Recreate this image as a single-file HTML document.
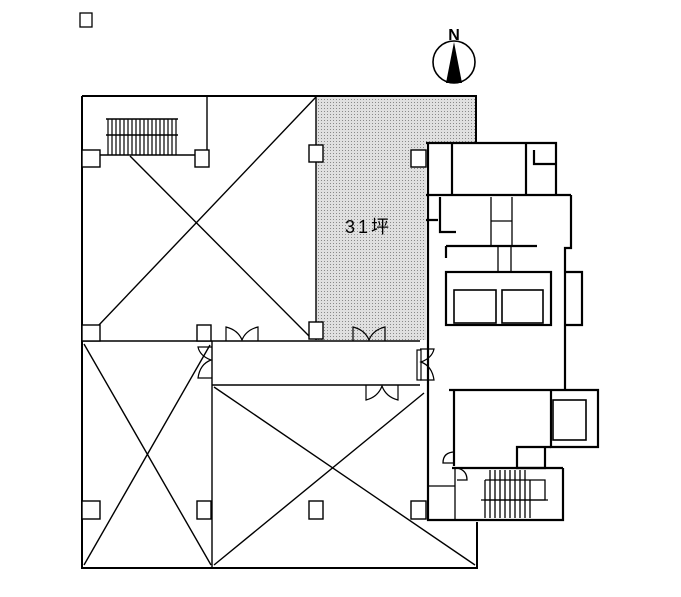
<!DOCTYPE html>
<html><head><meta charset="utf-8"><style>
html,body{margin:0;padding:0;background:#fff;width:681px;height:597px;overflow:hidden}
svg{display:block}
</style></head><body>
<svg width="681" height="597" viewBox="0 0 681 597" xmlns="http://www.w3.org/2000/svg">
<defs>
<pattern id="dots" width="3" height="3" patternUnits="userSpaceOnUse">
<rect width="3" height="3" fill="#e0e0e0"/><rect width="1" height="1" fill="#8a8a8a"/>
</pattern>
</defs>
<rect x="80" y="13" width="12" height="14" fill="none" stroke="#000" stroke-width="1.3"/>
<!-- compass -->
<text x="454" y="40" font-family="Liberation Sans, sans-serif" font-size="16" font-weight="bold" text-anchor="middle">N</text>
<circle cx="454" cy="62" r="21" fill="none" stroke="#000" stroke-width="1.6"/>
<polygon points="454,42 446,83 462,83" fill="#000"/>
<!-- shading -->
<path d="M316,96 H476 V143 H426 V340 H316 Z" fill="url(#dots)"/>
<g fill="none" stroke="#000" stroke-width="1.4">
<path d="M82,96 H476 V143" stroke-width="2"/>
<path d="M82,96 V568 H477 V522" stroke-width="2"/>
<line x1="316" y1="96" x2="316" y2="340"/>
<line x1="82" y1="341" x2="420" y2="341"/>
<line x1="212" y1="341" x2="212" y2="567"/>
<line x1="212" y1="385" x2="420" y2="385"/>
<line x1="316" y1="97" x2="98" y2="326"/>
<line x1="130" y1="156" x2="310" y2="337"/>
<line x1="84" y1="344" x2="211" y2="565"/>
<line x1="84" y1="565" x2="210" y2="345"/>
<line x1="214" y1="387" x2="475" y2="565"/>
<line x1="214" y1="565" x2="424" y2="393"/>
<line x1="106" y1="119" x2="178" y2="119"/>
<line x1="106" y1="135" x2="178" y2="135"/>
<line x1="100" y1="155" x2="196" y2="155"/>
<line x1="207" y1="96" x2="207" y2="151"/>
</g>
<g stroke="#000" stroke-width="1.2">
<line x1="108" y1="119" x2="108" y2="155"/><line x1="112" y1="119" x2="112" y2="155"/><line x1="116" y1="119" x2="116" y2="155"/><line x1="120" y1="119" x2="120" y2="155"/><line x1="124" y1="119" x2="124" y2="155"/><line x1="128" y1="119" x2="128" y2="155"/><line x1="132" y1="119" x2="132" y2="155"/><line x1="136" y1="119" x2="136" y2="155"/><line x1="140" y1="119" x2="140" y2="155"/><line x1="144" y1="119" x2="144" y2="155"/><line x1="148" y1="119" x2="148" y2="155"/><line x1="152" y1="119" x2="152" y2="155"/><line x1="156" y1="119" x2="156" y2="155"/><line x1="160" y1="119" x2="160" y2="155"/><line x1="164" y1="119" x2="164" y2="155"/><line x1="168" y1="119" x2="168" y2="155"/><line x1="172" y1="119" x2="172" y2="155"/><line x1="176" y1="119" x2="176" y2="155"/>
</g>
<g fill="#fff" stroke="#000" stroke-width="1.4">
<rect x="82" y="150" width="18" height="17"/><rect x="195" y="150" width="14" height="17"/>
<rect x="309" y="145" width="14" height="17"/><rect x="411" y="150" width="15" height="17"/>
<rect x="82" y="325" width="18" height="16"/><rect x="197" y="325" width="14" height="16"/>
<rect x="309" y="322" width="14" height="17"/>
<rect x="82" y="501" width="18" height="18"/><rect x="197" y="501" width="14" height="18"/>
<rect x="309" y="501" width="14" height="18"/><rect x="411" y="501" width="15" height="18"/>
</g>
<text x="345" y="233" font-family="Liberation Sans, 'Noto Sans CJK JP', sans-serif" font-size="18" letter-spacing="3">31坪</text>
<g fill="none" stroke="#000" stroke-width="1.2">
<path d="M226,341 V327 Q238,330 242,340 Q246,330 258,327 V341"/>
<path d="M353,341 V327 Q365,330 369,340 Q373,330 385,327 V341"/>
<path d="M366,385 V400 Q378,397 382,386 Q386,397 398,400 V385"/>
<path d="M212,347 H198 Q200,356 211,360 Q200,364 198,378 H212"/>
<path d="M420,349 H434 Q432,358 421,362 Q432,366 434,380 H420"/>
<rect x="417" y="350" width="4" height="30"/>
</g>
<g fill="none" stroke="#000" stroke-width="2.2">
<path d="M426,143 H556 V195"/>
<path d="M428,143 V520 H563 V468"/>
<line x1="426" y1="195" x2="571" y2="195"/>
<line x1="452" y1="143" x2="452" y2="195"/>
<line x1="526" y1="143" x2="526" y2="195"/>
<path d="M534,150 V164 H556"/>
<path d="M571,195 V248 H565 V390"/>
<path d="M565,272 H582 V325 H565"/>
<path d="M426,220 H438 M440,197 V232 H456"/>
<path d="M446,246 H537 M446,246 V258"/>
<rect x="446" y="272" width="105" height="53"/>
<rect x="454" y="290" width="42" height="33" stroke-width="1.6"/>
<rect x="502" y="290" width="41" height="33" stroke-width="1.6"/>
<path d="M449,390 H598 V447 H551 V390"/>
<rect x="553" y="400" width="33" height="40" stroke-width="1.6"/>
<path d="M551,447 H517 V468 H545 V447"/>
<path d="M454,390 V466 M452,468 H563"/>
<line x1="428" y1="486" x2="455" y2="486" stroke-width="1.3"/>
</g>
<g fill="none" stroke="#000" stroke-width="1.3">
<line x1="491" y1="197" x2="491" y2="246"/><line x1="512" y1="197" x2="512" y2="246"/>
<line x1="491" y1="221" x2="512" y2="221"/>
<line x1="498" y1="246" x2="498" y2="272"/><line x1="511" y1="246" x2="511" y2="272"/>
<line x1="455" y1="468" x2="455" y2="520"/>
<path d="M455,452 Q443,452 443,463 H455"/>
<path d="M457,468 Q467,470 467,480 H457"/>
<path d="M485,480 H545 V500 H485"/>
<line x1="481" y1="500" x2="548" y2="500"/>
<line x1="485" y1="480" x2="485" y2="518"/><line x1="490" y1="470" x2="490" y2="518"/><line x1="495" y1="470" x2="495" y2="518"/><line x1="500" y1="470" x2="500" y2="518"/><line x1="505" y1="470" x2="505" y2="518"/><line x1="510" y1="470" x2="510" y2="518"/><line x1="515" y1="470" x2="515" y2="518"/><line x1="520" y1="470" x2="520" y2="518"/><line x1="525" y1="470" x2="525" y2="518"/><line x1="530" y1="480" x2="530" y2="518"/>
</g>
</svg>
</body></html>
